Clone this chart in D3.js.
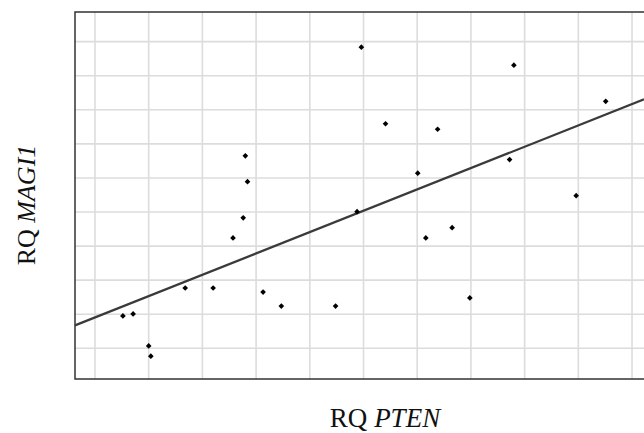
<!DOCTYPE html>
<html>
<head>
<meta charset="utf-8">
<script src="https://cdn.jsdelivr.net/npm/d3@7"></script>
<style>
  body { margin: 0; background: #fff; }
  svg { display: block; }
</style>
</head>
<body>
<svg width="644" height="433"></svg>
<script>
// data (grid units)
const pten = [0.52, 0.71, 1.00, 1.04, 1.68, 2.20, 2.57, 2.76, 2.84, 2.80, 3.13, 3.47, 4.48,
              4.88, 4.96, 5.41, 6.01, 6.16, 6.38, 6.65, 6.98, 7.72, 7.80, 8.96, 9.51]
const magi1 = [0.95, 1.01, 0.07, -0.23, 1.77, 1.77, 3.24, 3.83, 4.89, 5.65, 1.65, 1.24, 1.24,
               4.01, 8.84, 6.59, 5.14, 3.24, 6.43, 3.54, 1.48, 5.54, 8.31, 4.48, 7.25]
const xTicks = d3.range(0, 11)
const yTicks = d3.range(0, 10)

const svg = d3.select("svg")
const pLeft = 75, pTop = 12, pRight = 660, pBottom = 379

const x = d3.scaleLinear().domain([-0.372, 10.223]).range([pLeft, 644])
const y = d3.scaleLinear().domain([-0.901, 9.871]).range([pBottom, pTop])

// grid
svg.append("g")
    .selectAll("line")
    .data(xTicks)
    .join("line")
    .attr("x1", d => x(d)).attr("x2", d => x(d))
    .attr("y1", pTop).attr("y2", pBottom)
    .attr("stroke", "#dcdcdc")
    .attr("stroke-width", 1.6)

svg.append("g")
    .selectAll("line")
    .data(yTicks)
    .join("line")
    .attr("x1", pLeft).attr("x2", pRight)
    .attr("y1", d => y(d)).attr("y2", d => y(d))
    .attr("stroke", "#dcdcdc")
    .attr("stroke-width", 1.6)

// frame (left, top, bottom)
svg.append("path")
    .attr("d", `M${pRight},${pTop}H${pLeft}V${pBottom}H${pRight}`)
    .attr("fill", "none")
    .attr("stroke", "#333")
    .attr("stroke-width", 1.5)

// least squares fit
const pts = pten.map((d, i) => [d, magi1[i]])
const mx = d3.mean(pten), my = d3.mean(magi1)
const slope = d3.sum(pts, p => (p[0] - mx) * (p[1] - my)) / d3.sum(pts, p => (p[0] - mx) ** 2)
const icpt = my - slope * mx
const xd = x.domain()

svg.append("line")
    .attr("x1", x(xd[0])).attr("y1", y(icpt + slope * xd[0]))
    .attr("x2", x(xd[1])).attr("y2", y(icpt + slope * xd[1]))
    .attr("stroke", "#3a3a3a")
    .attr("stroke-width", 2.2)

// points: small square diamonds
svg.append("g")
    .selectAll("path")
    .data(pts)
    .join("path")
    .attr("transform", d => `translate(${x(d[0])},${y(d[1])}) rotate(45)`)
    .attr("d", d3.symbol().type(d3.symbolSquare).size(16))
    .attr("fill", "#000")

// axis titles
const xt = svg.append("text")
    .attr("x", 385).attr("y", 427)
    .attr("text-anchor", "middle")
    .style("font-family", "'Liberation Serif', serif")
    .style("font-size", "27px")
    .attr("fill", "#111")
xt.append("tspan").text("RQ ")
xt.append("tspan").style("font-style", "italic").text("PTEN")

const yt = svg.append("text")
    .attr("transform", "translate(35,205) rotate(-90)")
    .attr("text-anchor", "middle")
    .style("font-family", "'Liberation Serif', serif")
    .style("font-size", "26px")
    .attr("fill", "#111")
yt.append("tspan").text("RQ ")
yt.append("tspan").style("font-style", "italic").text("MAGI1")
</script>
</body>
</html>
